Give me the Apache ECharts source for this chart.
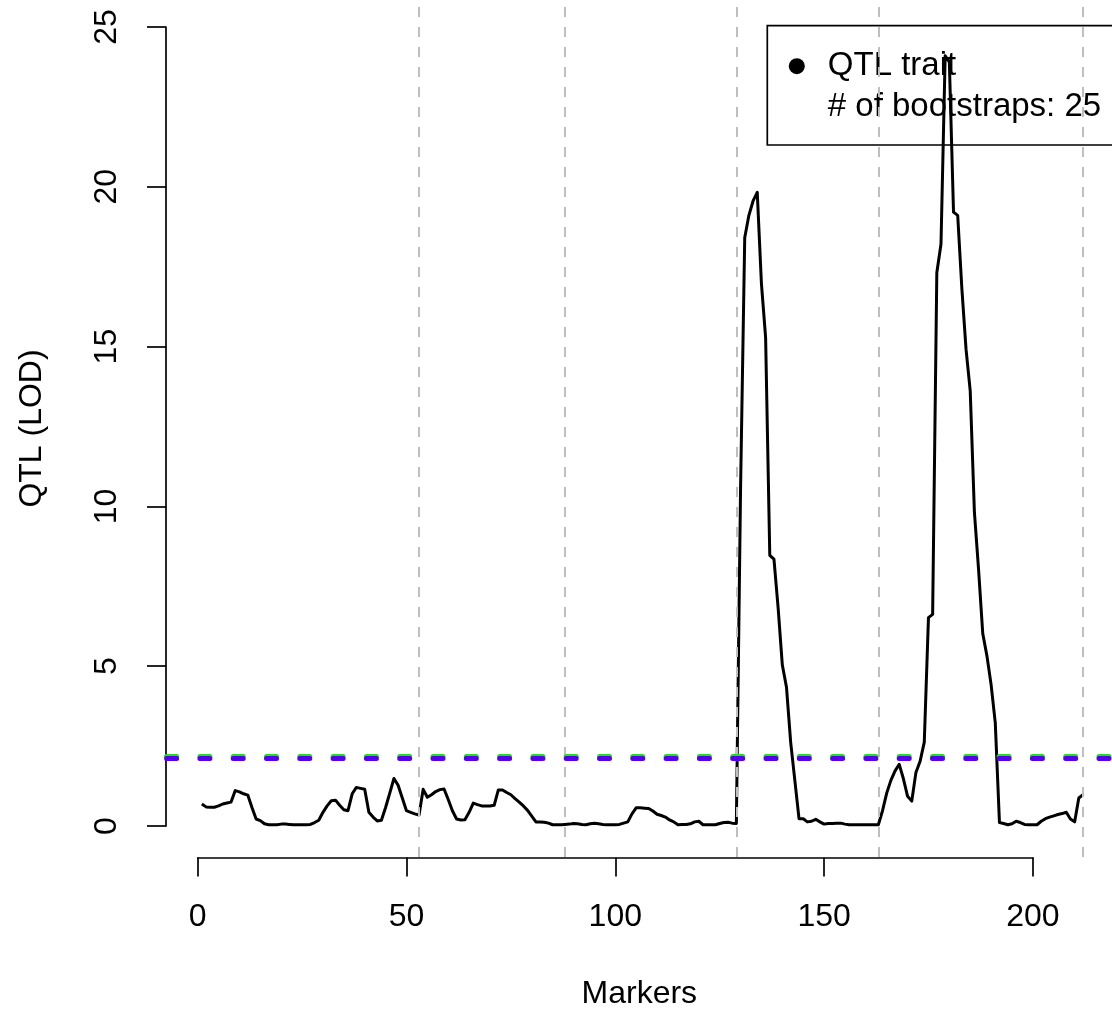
<!DOCTYPE html>
<html><head><meta charset="utf-8">
<script src="https://cdn.jsdelivr.net/npm/echarts@6/dist/echarts.min.js"></script>
<style>html,body{margin:0;padding:0;background:#fff}#c{width:1112px;height:1015px}</style>
</head><body><div id="c"></div>
<script>
// LOD score per marker (marker index = position in array + 1)
const lod = [
  0.66,0.57,0.56,0.56,0.60,0.66,0.69,0.72,1.08,1.04,
  0.98,0.94,0.55,0.19,0.14,0.04,0.01,0.01,0.01,0.03,
  0.03,0.02,0.01,0.01,0.01,0.01,0.02,0.08,0.15,0.40,
  0.60,0.76,0.78,0.62,0.48,0.45,0.98,1.18,1.15,1.12,
  0.40,0.25,0.13,0.15,0.55,1.00,1.46,1.25,0.85,0.45,
  0.40,0.35,0.31,1.12,0.87,0.95,1.05,1.11,1.13,0.80,
  0.45,0.19,0.16,0.17,0.40,0.69,0.64,0.60,0.60,0.60,
  0.62,1.10,1.10,1.02,0.95,0.83,0.72,0.60,0.46,0.28,
  0.10,0.10,0.09,0.06,0.01,0.01,0.01,0.02,0.03,0.05,
  0.04,0.02,0.01,0.04,0.06,0.04,0.02,0.01,0.01,0.01,
  0.02,0.06,0.10,0.35,0.54,0.54,0.53,0.52,0.44,0.34,
  0.30,0.25,0.16,0.10,0.01,0.02,0.02,0.04,0.10,0.12,
  0.01,0.01,0.01,0.01,0.05,0.08,0.09,0.06,0.05,10.5,
  18.4,19.1,19.55,19.82,16.96,15.28,8.45,8.33,6.8,5.02,
  4.32,2.6,1.4,0.2,0.2,0.1,0.12,0.18,0.1,0.03,
  0.05,0.05,0.06,0.06,0.03,0.01,0.01,0.01,0.01,0.01,
  0.01,0.01,0.01,0.45,1.0,1.4,1.7,1.9,1.45,0.9,
  0.75,1.65,2.0,2.6,6.5,6.6,17.3,18.2,24.1,23.9,
  19.2,19.1,16.8,14.9,13.6,9.8,8.0,6.0,5.3,4.4,
  3.2,0.08,0.05,0.01,0.04,0.12,0.08,0.02,0.01,0.01,
  0.01,0.12,0.2,0.25,0.29,0.33,0.36,0.4,0.19,0.1,
  0.85,0.95
];
// last marker of each chromosome (grey dashed separators)
const chrEnds = [53, 88, 129, 163, 212];
// significance thresholds
const thresholdGreen = 2.16;
const thresholdPurple = 2.09;
const xTickMax = 200, xTickStep = 50;
const yTickMax = 25, yTickStep = 5;
const xTitle = 'Markers';
const yTitle = 'QTL (LOD)';
const legendLabels = ['QTL trait', '# of bootstraps: 25'];

const F = '"Liberation Sans", Arial, Helvetica, sans-serif';
const seriesData = lod.map((v, i) => [i + 1, v]);

const chart = echarts.init(document.getElementById('c'), null, {renderer: 'canvas'});
chart.setOption({
  animation: false,
  backgroundColor: '#ffffff',
  grid: [
    {left: 166.6, right: 0, top: 0, bottom: 157},
    {left: 197.7, width: 835.2, top: 27, bottom: 189}
  ],
  xAxis: [
    {type: 'value', gridIndex: 0, min: -7.44, max: 218.95,
     axisLine: {show: false}, axisTick: {show: false}, axisLabel: {show: false}, splitLine: {show: false},
     name: xTitle, nameLocation: 'middle', nameGap: 121,
     nameTextStyle: {fontFamily: F, fontSize: 32, color: '#000'}},
    {type: 'value', gridIndex: 1, min: 0, max: xTickMax, interval: xTickStep, offset: 31.5,
     axisLine: {show: true, onZero: false, lineStyle: {color: '#000', width: 1.7}},
     axisTick: {show: true, length: 19, lineStyle: {color: '#000', width: 1.7}},
     axisLabel: {margin: 44, fontFamily: F, fontSize: 32, color: '#000'},
     splitLine: {show: false}}
  ],
  yAxis: [
    {type: 'value', gridIndex: 0, min: -1, max: 25.845,
     axisLine: {show: false}, axisTick: {show: false}, axisLabel: {show: false}, splitLine: {show: false},
     name: yTitle, nameLocation: 'middle', nameGap: 118, nameRotate: 90,
     nameTextStyle: {fontFamily: F, fontSize: 32, color: '#000'}},
    {type: 'value', gridIndex: 1, min: 0, max: yTickMax, interval: yTickStep, offset: 31.7,
     axisLine: {show: true, onZero: false, lineStyle: {color: '#000', width: 1.7}},
     axisTick: {show: true, length: 19, lineStyle: {color: '#000', width: 1.7}},
     axisLabel: {margin: 43, rotate: 90, fontFamily: F, fontSize: 32, color: '#000'},
     splitLine: {show: false}}
  ],
  legend: {
    left: 767.3, top: 25.7, orient: 'vertical',
    padding: [24, 40, 21.3, 21.5],
    borderColor: '#000', borderWidth: 1.7, borderRadius: 0,
    itemWidth: 52, itemHeight: 16, itemGap: 8,
    selectedMode: false,
    textStyle: {fontFamily: F, fontSize: 33, color: '#000', lineHeight: 33},
    data: [
      {name: legendLabels[0], icon: 'circle', itemStyle: {color: '#000'}},
      {name: legendLabels[1], icon: 'circle', itemStyle: {color: 'rgba(0,0,0,0)', opacity: 0}}
    ]
  },
  series: [
    {name: legendLabels[0], type: 'line', xAxisIndex: 0, yAxisIndex: 0, z: 2,
     data: seriesData, showSymbol: false, symbol: 'none', silent: true,
     itemStyle: {color: '#000'},
     lineStyle: {color: '#000', width: 3, join: 'round'}},
    {name: legendLabels[1], type: 'line', xAxisIndex: 0, yAxisIndex: 0, data: []},
    {name: 'guides', type: 'line', xAxisIndex: 0, yAxisIndex: 0, z: 3, data: [], silent: true,
     markLine: {
       silent: true, symbol: ['none', 'none'], label: {show: false}, animation: false,
       emphasis: {disabled: true},
       data: chrEnds.map(x => ({xAxis: x, lineStyle: {color: '#BEBEBE', width: 2, type: [10, 10]}}))
         .concat([
           {yAxis: thresholdGreen, lineStyle: {color: '#22DD22', width: 5, type: [10, 23.3], cap: 'round'}},
           {yAxis: thresholdPurple, lineStyle: {color: '#5500E6', width: 5, type: [10, 23.3], cap: 'round'}}
         ])
     }}
  ]
});
</script></body></html>
